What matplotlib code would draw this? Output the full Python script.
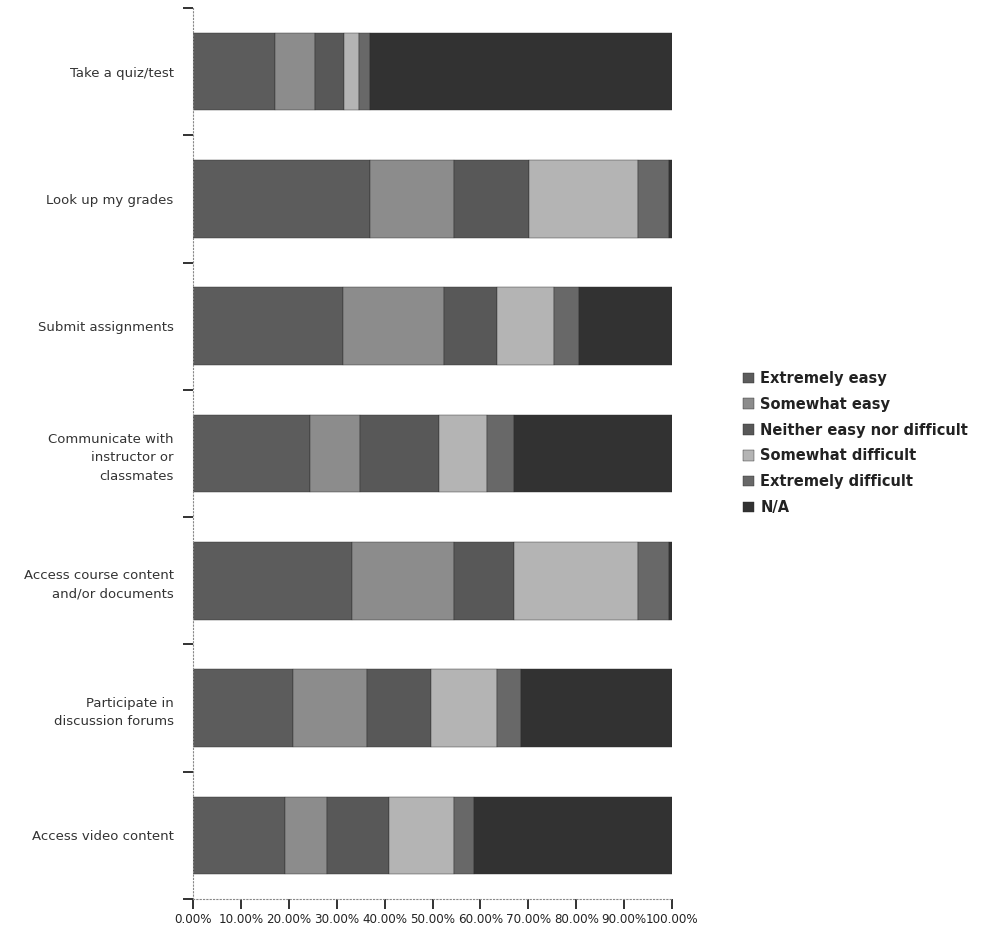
import matplotlib
matplotlib.use("Agg")
import matplotlib.pyplot as plt
import numpy as np

categories = [
    "Take a quiz/test",
    "Look up my grades",
    "Submit assignments",
    "Communicate with\ninstructor or\nclassmates",
    "Access course content\nand/or documents",
    "Participate in\ndiscussion forums",
    "Access video content",
]

series_names = [
    "Extremely easy",
    "Somewhat easy",
    "Neither easy nor difficult",
    "Somewhat difficult",
    "Extremely difficult",
    "N/A",
]

extremely_easy = [17.2, 37.0, 31.4, 24.5, 33.2, 20.9, 19.2]
somewhat_easy = [8.2, 17.5, 21.0, 10.4, 21.3, 15.5, 8.8]
neither = [6.2, 15.6, 11.0, 16.4, 12.5, 13.2, 12.9]
somewhat_difficult = [3.1, 22.7, 12.0, 10.1, 26.0, 13.9, 13.6]
extremely_difficult = [2.3, 6.5, 5.2, 5.6, 6.3, 4.9, 4.1]
not_applicable = [63.0, 0.7, 19.4, 33.0, 0.7, 31.6, 41.4]

series_values = [extremely_easy, somewhat_easy, neither,
                 somewhat_difficult, extremely_difficult, not_applicable]
colors = ["#5c5c5c", "#8c8c8c", "#585858", "#b4b4b4", "#686868", "#323232"]

x_ticks = list(range(0, 101, 10))
x_tick_labels = [f"{v:.2f}%" for v in x_ticks]

fig = plt.figure(figsize=(9.98, 9.32), dpi=100)
ax = fig.add_axes([193 / 998, 1 - 899 / 932, 479 / 998, 891 / 932])

y = np.arange(len(categories))
left = np.zeros(len(categories))
handles = []
for name, vals, col in zip(series_names, series_values, colors):
    vals = np.array(vals)
    b = ax.barh(y, vals, left=left, height=0.61, color=col,
                edgecolor="#2a2a2a", linewidth=0.3, label=name)
    handles.append(b)
    left += vals

ax.set_xlim(0, 100)
ax.set_ylim(len(categories) - 0.5, -0.5)

ax.set_yticks(y)
ax.set_yticklabels(categories, fontsize=9.5, color="#333333", linespacing=1.55)
ax.tick_params(axis="y", which="major", length=0, pad=14)
ax.set_yticks(np.arange(-0.5, len(categories) + 0.5, 1.0), minor=True)
ax.tick_params(axis="y", which="minor", length=7, width=1.3, color="#222222")

ax.set_xticks(x_ticks)
ax.set_xticklabels(x_tick_labels, fontsize=8.6, color="#222222")
ax.tick_params(axis="x", which="major", length=7, width=1.3, color="#222222", pad=3)

for side in ["top", "right"]:
    ax.spines[side].set_visible(False)
for side in ["left", "bottom"]:
    ax.spines[side].set_color("#888888")
    ax.spines[side].set_linewidth(0.8)
    ax.spines[side].set_linestyle((0, (1, 2)))

fig.legend(handles=handles, labels=series_names, loc="upper left",
           bbox_to_anchor=(743 / 998, 1 - 371 / 932), frameon=False,
           prop={"size": 10.5, "weight": "bold"}, labelcolor="#222222",
           handlelength=0.75, handleheight=0.75, handletextpad=0.45,
           labelspacing=0.74, borderaxespad=0, borderpad=0)

fig.savefig("out.png", dpi=100, facecolor="white")
